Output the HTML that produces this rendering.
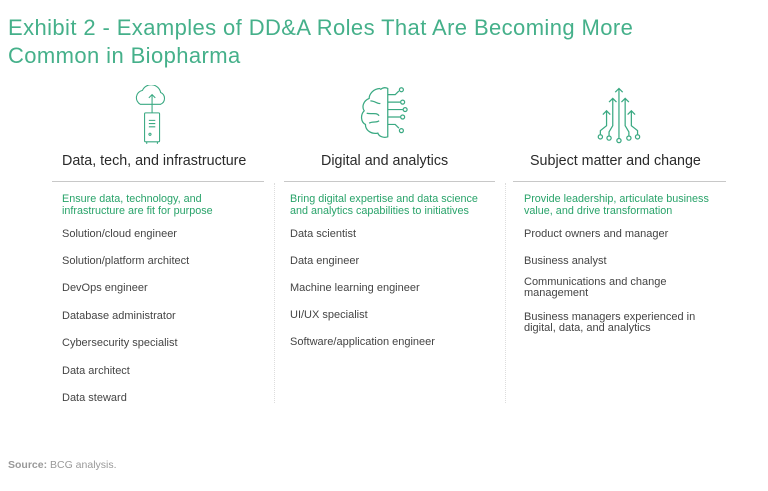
<!DOCTYPE html>
<html><head><meta charset="utf-8"><style>
*{margin:0;padding:0}
body{width:768px;height:491px;background:#fff;position:relative;overflow:hidden;font-family:"Liberation Sans",sans-serif}
.a{position:absolute;white-space:nowrap;line-height:1}
.t{color:#45b08a;font-size:22px;left:8px;letter-spacing:0.4px}
.h{color:#2a2a2a;font-size:14.3px}
.g{color:#29a36a;font-size:10.8px;line-height:12px}
.i{color:#444;font-size:11px;line-height:11px}
.l{position:absolute;height:1px;background:#c8c8c8;top:181px}
.v{position:absolute;width:0;border-left:1px dotted #ddd;top:183px;height:220px}
</style></head><body>
<div class="a t" style="top:17px">Exhibit 2 - Examples of DD&amp;A Roles That Are Becoming More</div>
<div class="a t" style="top:45px">Common in Biopharma</div>

<svg style="position:absolute;left:129px;top:85px" width="44" height="60" viewBox="0 4 40 56" fill="none" stroke="#3aa982" stroke-width="1">
<path d="M10 22 a7 7 0 0 1 2-13 a9 9 0 0 1 17 2 a6 6 0 0 1 0 11 z"/>
<path d="M21 30 V13 M18 16 l3-3 3 3"/>
<rect x="14" y="30" width="14" height="27" rx="1"/>
<path d="M18 37h6M18 40h6M18 43h6M19 49 a1 1 0 1 0 .1 0 M16 57v2M26 57v2"/>
</svg>
<svg style="position:absolute;left:358px;top:86px" width="62" height="62" viewBox="0 0 50 50" fill="none" stroke="#3aa982" stroke-width="1">
<path d="M18 2 c-6 0-9 5-9 8 c-5 2-6 7-4 10 c-3 3-3 9 1 11 c0 5 5 8 10 7 c1 3 5 4 8 3 V2 c-2-1-4-1-6 1"/>
<path d="M24 7 h6 l3-3 M24 13h10 M24 19h12 M24 25 h10 M24 31 h6 l3 3"/>
<circle cx="35" cy="3" r="1.6"/><circle cx="36" cy="13" r="1.6"/><circle cx="38" cy="19" r="1.6"/><circle cx="36" cy="25" r="1.6"/><circle cx="35" cy="36" r="1.6"/>
<path d="M10 12 c4 0 6 3 8 2 M7 22 c4 1 8-1 10 2 M9 30 c3-2 6 0 8-2"/>
</svg>
<svg style="position:absolute;left:583px;top:86px" width="62" height="62" viewBox="0 0 50 50" fill="none" stroke="#3aa982" stroke-width="1">
<path d="M29 2 v40 M26 5 l3-3 3 3 M24 10 v22 l-3 5 v3 M21 13 l3-3 3 3 M34 10 v22 l3 5 v3 M31 13 l3-3 3 3 M19 20 v12 l-5 4 v3 M16 23 l3-3 3 3 M39 20 v12 l5 4 v3 M36 23 l3-3 3 3"/>
<circle cx="14" cy="41" r="1.7"/><circle cx="21" cy="42" r="1.7"/><circle cx="29" cy="44" r="1.7"/><circle cx="37" cy="42" r="1.7"/><circle cx="44" cy="41" r="1.7"/>
</svg>

<div class="a h" style="left:62px;top:154px">Data, tech, and infrastructure</div>
<div class="a h" style="left:321px;top:154px">Digital and analytics</div>
<div class="a h" style="left:530px;top:154px">Subject matter and change</div>
<div class="l" style="left:52px;width:212px"></div>
<div class="l" style="left:284px;width:211px"></div>
<div class="l" style="left:513px;width:213px"></div>
<div class="v" style="left:274px"></div>
<div class="v" style="left:505px"></div>

<div class="a g" style="left:62px;top:193px">Ensure data, technology, and<br>infrastructure are fit for purpose</div>
<div class="a g" style="left:290px;top:193px">Bring digital expertise and data science<br>and analytics capabilities to initiatives</div>
<div class="a g" style="left:524px;top:193px">Provide leadership, articulate business<br>value, and drive transformation</div>

<div class="a i" style="left:62px;top:229px">Solution/cloud engineer</div>
<div class="a i" style="left:62px;top:256px">Solution/platform architect</div>
<div class="a i" style="left:62px;top:283px">DevOps engineer</div>
<div class="a i" style="left:62px;top:311px">Database administrator</div>
<div class="a i" style="left:62px;top:338px">Cybersecurity specialist</div>
<div class="a i" style="left:62px;top:366px">Data architect</div>
<div class="a i" style="left:62px;top:393px">Data steward</div>

<div class="a i" style="left:290px;top:229px">Data scientist</div>
<div class="a i" style="left:290px;top:256px">Data engineer</div>
<div class="a i" style="left:290px;top:283px">Machine learning engineer</div>
<div class="a i" style="left:290px;top:310px">UI/UX specialist</div>
<div class="a i" style="left:290px;top:337px">Software/application engineer</div>

<div class="a i" style="left:524px;top:229px">Product owners and manager</div>
<div class="a i" style="left:524px;top:256px">Business analyst</div>
<div class="a i" style="left:524px;top:277px">Communications and change<br>management</div>
<div class="a i" style="left:524px;top:312px">Business managers experienced in<br>digital, data, and analytics</div>

<div class="a" style="left:8px;top:460px;font-size:10.5px;color:#999"><b>Source:</b> BCG analysis.</div>
</body></html>
